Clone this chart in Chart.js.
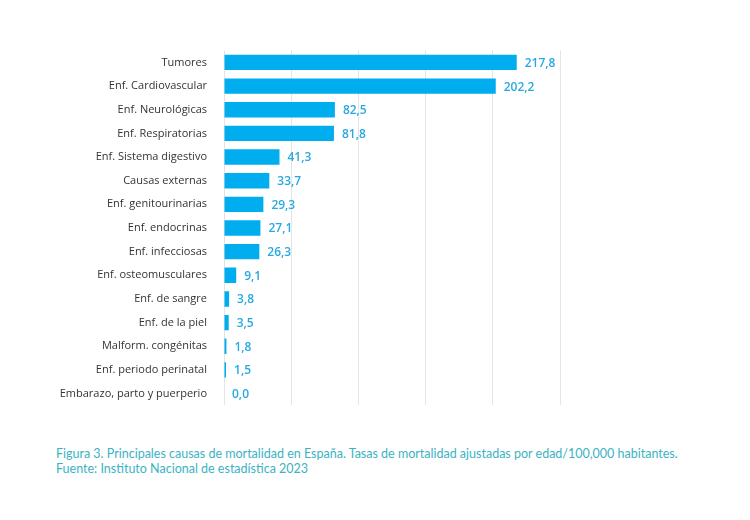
<!DOCTYPE html>
<html><head><meta charset="utf-8">
<script src="https://cdn.jsdelivr.net/npm/chart.js@4"></script>
<style>
body{margin:0;background:#fff;font-family:"Open Sans",sans-serif}
#wrap{position:absolute;left:0;top:35px;width:600px;height:386px}
.cap{position:absolute;left:56px;top:446px;color:#3bb3c3;font-size:12.5px;line-height:15px;font-family:Lato,"Open Sans",sans-serif}
</style></head><body>
<div id="wrap"><canvas id="c"></canvas></div>
<div class="cap">Figura 3. Principales causas de mortalidad en España. Tasas de mortalidad ajustadas por edad/100,000 habitantes.<br>Fuente: Instituto Nacional de estadística 2023</div>
<script>
const causas = ['Tumores','Enf. Cardiovascular','Enf. Neurológicas','Enf. Respiratorias','Enf. Sistema digestivo','Causas externas','Enf. genitourinarias','Enf. endocrinas','Enf. infecciosas','Enf. osteomusculares','Enf. de sangre','Enf. de la piel','Malform. congénitas','Enf. periodo perinatal','Embarazo, parto y puerperio'];
const tasas = [217.8,202.2,82.5,81.8,41.3,33.7,29.3,27.1,26.3,9.1,3.8,3.5,1.8,1.5,0.0];

const valueLabels = {
  id: 'valueLabels',
  afterDatasetsDraw(chart) {
    const ctx = chart.ctx;
    ctx.save();
    ctx.fillStyle = '#29a9e0';
    ctx.font = '600 12px "Open Sans"';
    ctx.textBaseline = 'middle';
    chart.getDatasetMeta(0).data.forEach((bar, i) => {
      ctx.fillText(tasas[i].toFixed(1).replace('.', ','), bar.x + 8, bar.y + 1);
    });
    ctx.restore();
  }
};

new Chart(document.getElementById('c'), {
  type: 'bar',
  data: { labels: causas, datasets: [{ data: tasas, backgroundColor: '#00adee', borderWidth: 0, barPercentage: 0.65, categoryPercentage: 1 }] },
  options: {
    indexAxis: 'y', responsive: true, maintainAspectRatio: false, animation: false,
    layout: { padding: { left: 0, right: 40, top: 0, bottom: 0 } },
    plugins: { legend: { display: false }, tooltip: { enabled: false } },
    scales: {
      x: { min: 0, max: 250, ticks: { display: false, stepSize: 50 }, grid: { color: '#e4e4e4', drawTicks: false }, border: { display: false } },
      y: { grid: { display: false }, border: { display: false }, afterFit(s) { s.width = 224; },
           ticks: { color: '#333', font: { size: 11, family: '"Open Sans"' }, padding: 9 } }
    }
  },
  plugins: [valueLabels]
});
</script>
</body></html>
